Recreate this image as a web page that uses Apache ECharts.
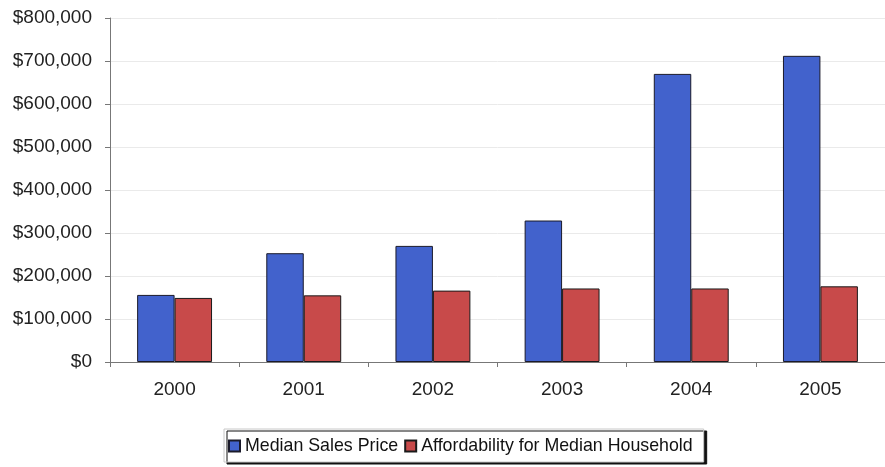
<!DOCTYPE html>
<html><head><meta charset="utf-8">
<script src="https://cdn.jsdelivr.net/npm/echarts@6/dist/echarts.min.js"></script>
<style>html,body{margin:0;padding:0;background:#fff}#c{width:885px;height:467px}</style>
</head><body><div id="c"></div>
<script>
const categories = ['2000','2001','2002','2003','2004','2005'];
const medianSalesPrice = [156000, 253000, 270000, 329000, 670000, 712000];
const affordability = [149000, 155000, 166000, 171000, 171000, 176000];
const seriesNames = ['Median Sales Price', 'Affordability for Median Household'];

const chart = echarts.init(document.getElementById('c'), null, {renderer:'canvas'});
const font = 'Liberation Sans, Arial, sans-serif';
chart.setOption({
  animation:false,
  backgroundColor:'#fff',
  grid:{left:110, top:18, width:780, height:344, containLabel:false},
  legend:{
    data:seriesNames, left:224, top:429, width:600,
    itemWidth:11, itemHeight:11, itemGap:6, icon:'rect',
    textStyle:{fontFamily:font, fontSize:17.8, color:'#111'},
    padding:[8,11,7,4],
    backgroundColor:'#fff', borderColor:'#c8c8c8', borderWidth:1,
    shadowColor:'#111', shadowOffsetX:3, shadowOffsetY:2, shadowBlur:0
  },
  xAxis:{
    type:'category', data:categories,
    axisLine:{lineStyle:{color:'#777', width:1}},
    axisTick:{show:true, length:5, lineStyle:{color:'#777'}},
    axisLabel:{fontFamily:font, fontSize:19, color:'#222', margin:18}
  },
  yAxis:{
    type:'value', min:0, max:800000, interval:100000,
    axisLine:{show:true, lineStyle:{color:'#777', width:1}},
    axisTick:{show:true, length:5, lineStyle:{color:'#777'}},
    splitLine:{lineStyle:{color:'#eaeaea', width:1}},
    axisLabel:{fontFamily:font, fontSize:19, color:'#222', margin:18,
      formatter:v=>'$'+v.toLocaleString('en-US')}
  },
  series:[
    {name:seriesNames[0], type:'bar', data:medianSalesPrice, barGap:'0%', barCategoryGap:'42%',
     itemStyle:{color:'#4262cc', borderColor:'#1a1a2a', borderWidth:1}},
    {name:seriesNames[1], type:'bar', data:affordability, barGap:'0%', barCategoryGap:'42%',
     itemStyle:{color:'#c84a4a', borderColor:'#1a1a1a', borderWidth:1}}
  ]
});
</script></body></html>
